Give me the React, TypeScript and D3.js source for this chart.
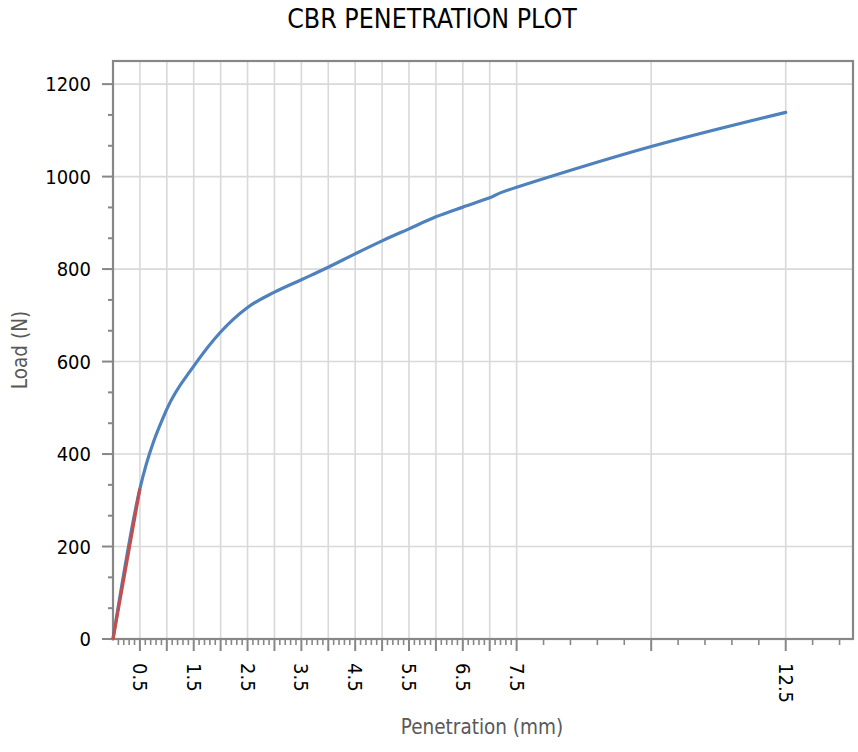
import React from "react";
import * as d3 from "d3";

const penetration = [0, 0.5, 1.0, 1.5, 2.0, 2.5, 3.0, 3.5, 4.0, 4.5, 5.0, 5.5, 6.0, 6.5, 7.0, 7.5, 10, 12.5];
const loadValues = [0, 325, 497, 590, 664, 717, 750, 777, 804, 833, 861, 887, 913, 934, 954, 977, 1065, 1139];
const tangentX = [0, 0.5];
const tangentY = [0, 325];
const xGridTicks = [0.5, 1, 1.5, 2, 2.5, 3, 3.5, 4, 4.5, 5, 5.5, 6, 6.5, 7, 7.5, 10, 12.5];
const xLabelTicks = [0.5, 1.5, 2.5, 3.5, 4.5, 5.5, 6.5, 7.5, 12.5];
const xMinorTicks = [
  ...d3.range(1, 76).filter((i) => i % 5 !== 0).map((i) => i / 10),
  8, 8.5, 9, 9.5, 10.5, 11, 11.5, 12, 13, 13.5,
];
const yTicks = [0, 200, 400, 600, 800, 1000, 1200];
const yMinorTicks = d3.range(0, 18).filter((i) => i % 3 !== 0).map((i) => (i * 200) / 3);

const W = 858;
const H = 752;
const FONT = "'DejaVu Sans Condensed', 'DejaVu Sans', sans-serif";

export default function App() {
  const left = 113, right = 853, top = 61, bottom = 639;
  const x = d3.scaleLinear().domain([0, 13.75]).range([left, right]);
  const y = d3.scaleLinear().domain([0, 1250]).range([bottom, top]);

  const pts: [number, number][] = penetration.map((p, i) => [p, loadValues[i]]);
  const tan: [number, number][] = tangentX.map((p, i) => [p, tangentY[i]]);
  const line = d3
    .line<[number, number]>()
    .x((d) => x(d[0]))
    .y((d) => y(d[1]))
    .curve(d3.curveCatmullRom.alpha(0));
  const straight = d3
    .line<[number, number]>()
    .x((d) => x(d[0]))
    .y((d) => y(d[1]));

  const axisColor = "#878787";
  const gridColor = "#d9d9d9";

  return (
    <svg
      width={W}
      height={H}
      style={{ position: "absolute", left: 0, top: 0, background: "#fff" }}
      fontFamily={FONT}
    >
      <rect x={0} y={0} width={W} height={H} fill="#fff" />
      <text x={432} y={28} textAnchor="middle" fontSize={26.5} fill="#000">
        CBR PENETRATION PLOT
      </text>

      {/* grid */}
      {yTicks.filter((t) => t > 0).map((t) => (
        <line key={"gy" + t} x1={left} x2={right} y1={y(t)} y2={y(t)} stroke={gridColor} strokeWidth={1.6} />
      ))}
      {xGridTicks.map((t) => (
        <line key={"gx" + t} x1={x(t)} x2={x(t)} y1={top} y2={bottom} stroke={gridColor} strokeWidth={1.6} />
      ))}

      {/* frame */}
      <rect x={left} y={top} width={right - left} height={bottom - top} fill="none" stroke={axisColor} strokeWidth={2.2} />

      {/* y ticks */}
      {yTicks.map((t) => (
        <g key={"yt" + t}>
          <line x1={left - 11} x2={left} y1={y(t)} y2={y(t)} stroke={axisColor} strokeWidth={2} />
          <text x={91} y={y(t)} textAnchor="end" dominantBaseline="central" fontSize={20} fill="#000">
            {t}
          </text>
        </g>
      ))}
      {yMinorTicks.map((t) => (
        <line key={"ym" + t} x1={left - 5} x2={left} y1={y(t)} y2={y(t)} stroke={axisColor} strokeWidth={2} />
      ))}

      {/* x ticks */}
      {xGridTicks.map((t) => (
        <line key={"xt" + t} x1={x(t)} x2={x(t)} y1={bottom} y2={bottom + 12} stroke={axisColor} strokeWidth={2} />
      ))}
      {xMinorTicks.map((t) => (
        <line key={"xm" + t} x1={x(t)} x2={x(t)} y1={bottom} y2={bottom + 6} stroke={axisColor} strokeWidth={1.6} />
      ))}
      {xLabelTicks.map((t) => (
        <text
          key={"xl" + t}
          transform={`translate(${x(t)},${bottom + 24}) rotate(90)`}
          textAnchor="start"
          dominantBaseline="central"
          fontSize={20}
          fill="#000"
        >
          {t}
        </text>
      ))}

      {/* axis titles */}
      <text x={482} y={734} textAnchor="middle" fontSize={20.5} fill="#595959">
        Penetration (mm)
      </text>
      <text transform={`translate(27,350) rotate(-90)`} textAnchor="middle" fontSize={20.5} fill="#595959">
        Load (N)
      </text>

      {/* series */}
      <path d={line(pts) || ""} fill="none" stroke="#4f81bd" strokeWidth={3.2} strokeLinejoin="round" strokeLinecap="round" />
      <path d={straight(tan) || ""} fill="none" stroke="#c0504d" strokeWidth={3.2} strokeLinecap="butt" />
    </svg>
  );
}
